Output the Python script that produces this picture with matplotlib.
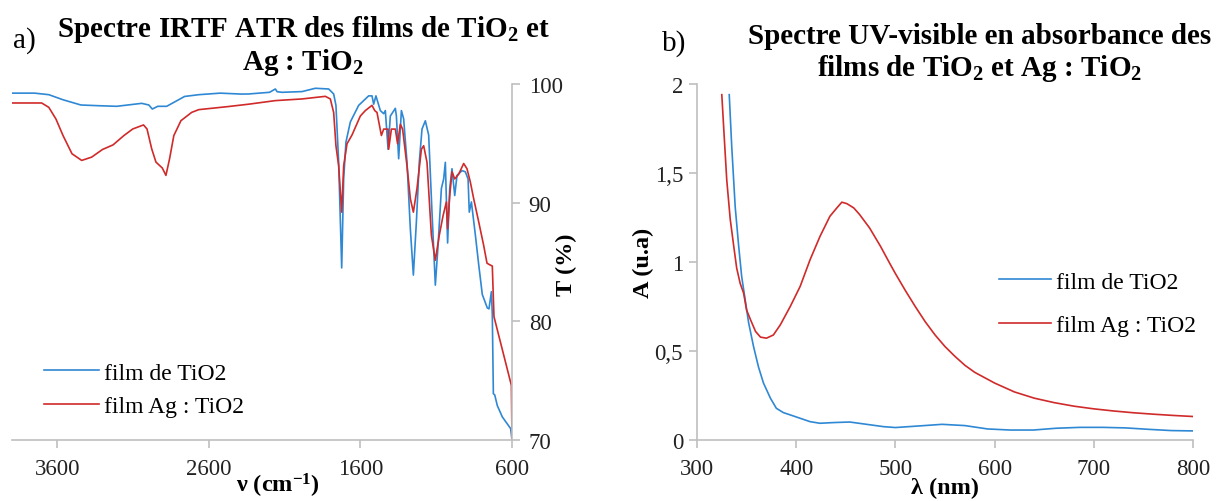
import matplotlib
matplotlib.use("Agg")
import matplotlib.pyplot as plt
from matplotlib.ticker import FixedLocator

plt.rcParams['font.family'] = ['Liberation Serif', 'DejaVu Serif']
plt.rcParams['mathtext.fontset'] = 'custom'
plt.rcParams['mathtext.rm'] = 'Liberation Serif'
plt.rcParams['mathtext.bf'] = 'Liberation Serif:bold'
plt.rcParams['mathtext.it'] = 'Liberation Serif:italic'

# ---------------- data: IR-ATR spectra ----------------
ir_wn_tio2 = [3905, 3751, 3657, 3563, 3445, 3327, 3209, 3044, 2997, 2974, 2938, 2879, 2832, 2761,
              2667, 2526, 2384, 2338, 2200, 2162, 2150, 2118, 1986, 1898, 1810, 1777, 1762, 1744,
              1724, 1711, 1696, 1667, 1612, 1579, 1546, 1524, 1513, 1498, 1469, 1447, 1436, 1418,
              1403, 1370, 1363, 1348, 1330, 1315, 1293, 1271, 1251, 1231, 1212, 1194, 1172, 1150,
              1128, 1106, 1088, 1066, 1051, 1040, 1025, 1011, 996, 978, 963, 930, 908, 890, 882,
              868, 842, 820, 796, 763, 752, 736, 730, 723, 714, 697, 664, 609, 600]
ir_t_tio2 = [99.23, 99.23, 99.10, 98.67, 98.23, 98.17, 98.12, 98.37, 98.23, 97.89, 98.12, 98.12, 98.45, 98.95,
             99.10, 99.23, 99.15, 99.16, 99.30, 99.58, 99.35, 99.30, 99.36, 99.64, 99.58, 99.16, 98.2, 93.4,
             84.5, 92.0, 95.1, 96.8, 98.2, 98.6, 99.0, 99.0, 98.3, 99.0, 97.76, 97.5, 97.76, 94.5,
             97.3, 97.95, 97.3, 93.7, 97.76, 97.06, 93.4, 87.8, 83.9, 88.4, 93.4, 96.2, 96.9, 95.7,
             89.2, 83.05, 86.4, 91.2, 92.0, 93.4, 86.6, 91.2, 92.86, 90.6, 92.3, 92.7, 92.6, 92.0, 89.2,
             90.06, 87.3, 84.8, 82.26, 81.13, 81.05, 82.5, 80.56, 73.9, 73.8, 72.9, 71.95, 70.96, 70.0]

ir_wn_ag = [3905, 3704, 3657, 3610, 3563, 3504, 3440, 3374, 3303, 3233, 3162, 3103, 3032, 3009,
            2978, 2950, 2908, 2884, 2860, 2832, 2785, 2714, 2667, 2479, 2337, 2162, 1986, 1832,
            1799, 1777, 1762, 1744, 1724, 1711, 1689, 1656, 1601, 1568, 1524, 1506, 1491, 1462,
            1447, 1418, 1414, 1396, 1370, 1355, 1337, 1322, 1293, 1271, 1251, 1227, 1198, 1183,
            1161, 1132, 1106, 1080, 1055, 1033, 1025, 1011, 996, 978, 952, 919, 897, 875, 853,
            820, 787, 765, 752, 730, 719, 604, 600]
ir_t_ag = [98.4, 98.4, 98.03, 97.05, 95.65, 94.12, 93.56, 93.84, 94.48, 94.87, 95.65, 96.21, 96.55, 96.21,
           94.54, 93.42, 92.92, 92.3, 93.7, 95.65, 96.91, 97.61, 97.84, 98.09, 98.3, 98.6, 98.74, 98.96,
           98.74, 97.6, 94.8, 93.1, 89.2, 93.1, 94.96, 95.7, 97.3, 97.76, 98.2, 97.76, 97.6, 95.66,
           96.2, 96.2, 94.5, 96.2, 96.2, 94.96, 96.6, 96.2, 93.1, 90.34, 89.2, 91.2, 94.5, 94.8,
           93.4, 87.25, 85.15, 87.25, 88.9, 90.06, 87.8, 90.6, 92.6, 92.0, 92.4, 93.3, 92.86, 91.74, 90.34,
           88.4, 86.4, 84.9, 84.8, 84.66, 80.4, 74.6, 70.0]

ir_xticks = [3600, 2600, 1600, 600]
ir_yticks = [70, 80, 90, 100]

# ---------------- data: UV-visible spectra ----------------
uv_wl_tio2 = [332.5, 335, 338.5, 342, 345, 348.5, 352, 357, 362, 367, 374, 380, 387, 394, 404, 414,
              424, 438, 454, 471, 488, 500, 524, 547, 570, 593, 616, 639, 662, 686, 709, 732, 755, 778, 800]
uv_a_tio2 = [1.94, 1.65, 1.31, 1.09, 0.92, 0.79, 0.66, 0.525, 0.41, 0.32, 0.235, 0.178, 0.154, 0.141, 0.122, 0.103,
             0.094, 0.098, 0.101, 0.088, 0.075, 0.07, 0.079, 0.088, 0.081, 0.062, 0.056, 0.056, 0.066, 0.071,
             0.071, 0.068, 0.06, 0.053, 0.051]

uv_wl_ag = [325, 327, 330, 333.5, 337, 340, 343.5, 347, 350, 354, 359, 364, 370, 377, 384, 394, 404,
            414, 424, 434, 441, 446, 451, 458, 464, 474, 485, 495, 500, 510, 520, 530, 540, 550, 560,
            570, 580, 590, 600, 620, 640, 660, 680, 700, 720, 740, 760, 780, 800]
uv_a_ag = [1.94, 1.745, 1.46, 1.24, 1.09, 0.966, 0.88, 0.825, 0.73, 0.675, 0.61, 0.578, 0.572, 0.59, 0.647,
           0.75, 0.863, 1.013, 1.144, 1.257, 1.304, 1.336, 1.328, 1.304, 1.266, 1.191, 1.088, 0.985, 0.935,
           0.84, 0.75, 0.665, 0.59, 0.525, 0.47, 0.42, 0.38, 0.35, 0.32, 0.27, 0.235, 0.21, 0.19, 0.175,
           0.163, 0.153, 0.145, 0.138, 0.132]

uv_xticks = [300, 400, 500, 600, 700, 800]
uv_yticks = [0, 0.5, 1, 1.5, 2]
uv_yticklabels = ["0", "0,5", "1", "1,5", "2"]

labels = ["film de TiO2", "film Ag : TiO2"]

BLUE = "#2f88d4"
RED = "#d02a2a"
GRAY = "#bfbfbf"
TICK_FS = 16.5
LEG_FS = 17

W, H = 1221, 502
fig = plt.figure(figsize=(W / 100, H / 100), dpi=100)

def fx(px):
    return px / W

def fy(py):
    return 1 - py / H

# ---------- left panel ----------
axL = fig.add_axes([fx(12), fy(441), fx(512) - fx(12), fy(85) - fy(441)])
axL.plot(ir_wn_tio2, ir_t_tio2, color=BLUE, lw=1.2, label=labels[0])
axL.plot(ir_wn_ag, ir_t_ag, color=RED, lw=1.2, label=labels[1])
axL.set_xlim(3900, 600)
axL.set_ylim(70, 100)
axL.xaxis.set_major_locator(FixedLocator(ir_xticks))
axL.yaxis.set_major_locator(FixedLocator(ir_yticks))
axL.yaxis.tick_right()
for s in ["left", "top"]:
    axL.spines[s].set_visible(False)
for s in ["right", "bottom"]:
    axL.spines[s].set_color(GRAY)
    axL.spines[s].set_linewidth(1.2)
axL.tick_params(direction="out", length=6, width=1.2, color=GRAY, labelsize=TICK_FS,
                labelcolor="#222222")
axL.tick_params(axis="y", pad=6)
axL.tick_params(axis="x", pad=7)
axL.legend(loc="upper left", bbox_to_anchor=(fx(44), fy(363)), bbox_transform=fig.transFigure,
           frameon=False, fontsize=LEG_FS, handlelength=2.35, handletextpad=0.2,
           labelspacing=0.5, borderpad=0, borderaxespad=0)

# ---------- right panel ----------
axR = fig.add_axes([fx(697), fy(441), fx(1193) - fx(697), fy(85) - fy(441)])
axR.plot(uv_wl_tio2, uv_a_tio2, color=BLUE, lw=1.2, label=labels[0])
axR.plot(uv_wl_ag, uv_a_ag, color=RED, lw=1.2, label=labels[1])
axR.set_xlim(300, 800)
axR.set_ylim(0, 2)
axR.xaxis.set_major_locator(FixedLocator(uv_xticks))
axR.set_yticks(uv_yticks)
axR.set_yticklabels(uv_yticklabels)
for s in ["right", "top"]:
    axR.spines[s].set_visible(False)
for s in ["left", "bottom"]:
    axR.spines[s].set_color(GRAY)
    axR.spines[s].set_linewidth(1.2)
axR.tick_params(direction="out", length=6, width=1.2, color=GRAY, labelsize=TICK_FS,
                labelcolor="#222222")
axR.tick_params(axis="y", pad=4)
axR.tick_params(axis="x", pad=7)
axR.legend(loc="upper left", bbox_to_anchor=(fx(999), fy(272)), bbox_transform=fig.transFigure,
           frameon=False, fontsize=LEG_FS, handlelength=2.2, handletextpad=0.2,
           labelspacing=0.95, borderpad=0, borderaxespad=0)

# ---------- titles & labels ----------
TFS = 21
fig.text(fx(13), fy(41), "a)", fontsize=TFS, ha="left", va="center")
fig.text(fx(303), fy(30), r"Spectre IRTF ATR des films de TiO$_\mathbf{2}$ et", fontsize=TFS,
         fontweight="bold", ha="center", va="center")
fig.text(fx(303), fy(62), r"Ag : TiO$_\mathbf{2}$", fontsize=TFS, fontweight="bold",
         ha="center", va="center")
fig.text(fx(662), fy(44), "b)", fontsize=TFS, ha="left", va="center")
fig.text(fx(980), fy(36), "Spectre UV-visible en absorbance des", fontsize=TFS,
         fontweight="bold", ha="center", va="center")
fig.text(fx(980), fy(68), r"films de TiO$_\mathbf{2}$ et Ag : TiO$_\mathbf{2}$", fontsize=TFS,
         fontweight="bold", ha="center", va="center")

LFS = 17.5
fig.text(fx(278), fy(486), r"ν (cm$^\mathbf{-1}$)", fontsize=LFS, fontweight="bold",
         ha="center", va="center")
fig.text(fx(566), fy(265), "T (%)", fontsize=LFS, fontweight="bold", rotation=90,
         ha="center", va="center")
fig.text(fx(643), fy(263), "A (u.a)", fontsize=LFS, fontweight="bold", rotation=90,
         ha="center", va="center")
fig.text(fx(945), fy(488), "λ (nm)", fontsize=LFS, fontweight="bold",
         ha="center", va="center")

fig.savefig("out.png", dpi=100)
